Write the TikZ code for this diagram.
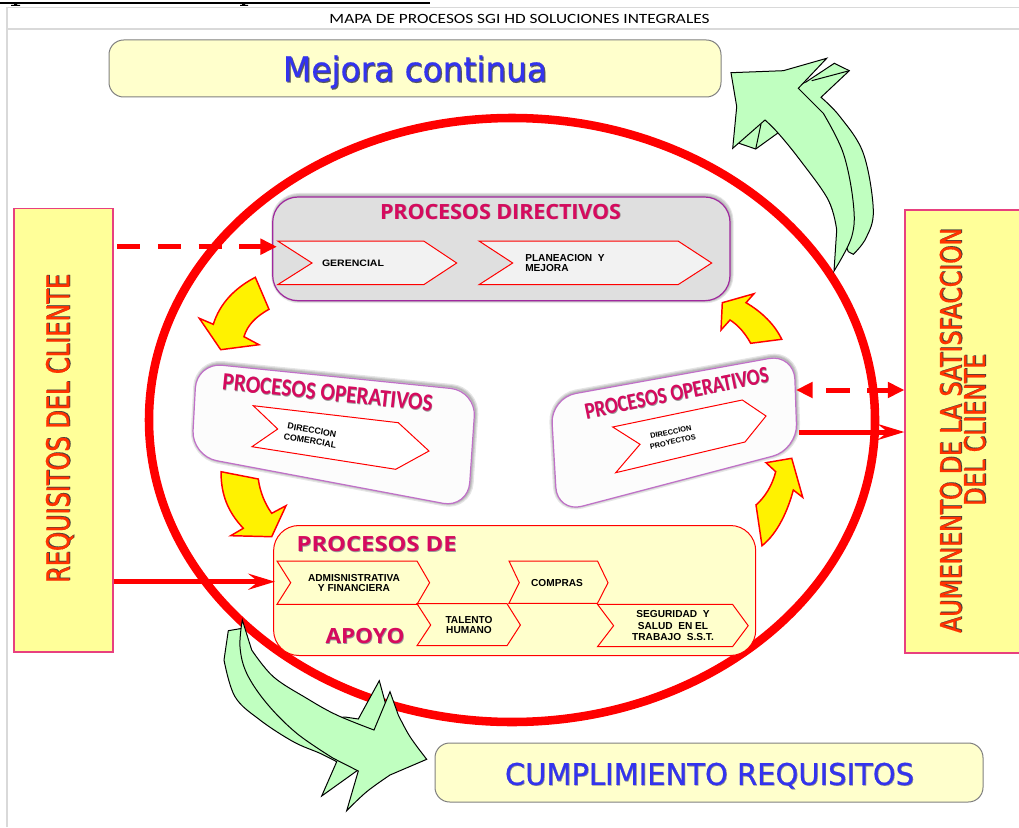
\documentclass[tikz,border=0pt]{standalone}
\usepackage{fontspec}
\usepackage{graphicx}
\usetikzlibrary{arrows.meta,fit}
\setmainfont{Liberation Sans}
\newfontfamily\tahfont{DejaVu Sans}[FakeBold=0.5]
\newfontfamily\calfont{Carlito}
\newfontfamily\opnfont{Open Sans}
\newlength\pxu \setlength\pxu{0.75pt}
\definecolor{paleyel}{HTML}{FFFFCC}
\definecolor{sideyel}{HTML}{FFFF99}
\definecolor{sideedge}{HTML}{E8407F}
\definecolor{mag}{HTML}{D60A5E}
\definecolor{blu}{HTML}{3333EE}
\definecolor{org}{HTML}{FF3300}
\definecolor{mint}{HTML}{C0FFC0}
\definecolor{frm}{HTML}{D9D9D9}
\definecolor{boxedge}{HTML}{808080}
\definecolor{dirfill}{HTML}{DFDFDF}
\definecolor{chevfill}{HTML}{F2F2F2}
\definecolor{purp}{HTML}{A0289E}
\definecolor{lpurp}{HTML}{C070C8}
% width-fitted text with an offset shadow in the same box
\newcommand{\shtxt}[5]{\resizebox{#1\pxu}{\height}{\rlap{\raisebox{-#5pt}{\hspace{#5pt}\textcolor{#3}{#4}}}\textcolor{#2}{#4}}}
\tikzset{
  pxgrid/.style={x=0.75pt,y=-0.75pt},
  framel/.style={draw=frm,line width=1.1pt},
  goalbox/.style={draw=boxedge,fill=paleyel,line width=0.75pt,rounded corners=11pt,inner sep=0pt},
  sidebox/.style={draw=sideedge,fill=sideyel,line width=0.9pt,inner sep=0pt},
  dirbox/.style={draw=purp,fill=dirfill,line width=0.9pt,rounded corners=19pt,inner sep=0pt},
  apobox/.style={draw=red,fill=paleyel,line width=0.75pt,rounded corners=19pt,inner sep=0pt},
  oppanel/.style={draw=lpurp,fill=white!99!black,line width=0.9pt,rounded corners=19pt},
  softsh/.style={draw=black,opacity=0.1,rounded corners=19pt},
  chev/.style={draw=red,line width=0.75pt,line join=miter},
  yarrow/.style={draw=red,fill=yellow,line width=1.1pt,line join=miter},
  garrow/.style={draw=black,fill=mint,line width=0.75pt,line join=miter},
  gline/.style={draw=black,line width=0.75pt},
  smalltxt/.style={font=\fontsize{7.6}{8.2}\selectfont\bfseries,align=center,inner sep=0pt,text=black},
  lefttxt/.style={smalltxt,align=left},
  plainnode/.style={inner sep=0pt,outer sep=0pt},
  thickflow/.style={draw=red,line width=3.75pt},
  dashflow/.style={thickflow,dash pattern=on 17.6pt off 13pt},
  solidhead/.style={-{Triangle[length=12.5pt,width=11.5pt]}},
  openhead/.style={-{Stealth[length=20pt,width=12pt,inset=7.5pt]}},
}
\begin{document}
\begin{tikzpicture}[pxgrid]
\useasboundingbox (0,0) rectangle (1019,827);
\fill[white] (0,0) rectangle (1019,827);

% page furniture
\draw[black,line width=1.2pt] (0,3) -- (430,3);
\fill[black] (14,4) rectangle (17,5.5) (11,5) rectangle (20,6);
\fill[black] (242,4) rectangle (245,5.5) (240,5) rectangle (248,6);
\draw[framel] (7,827) -- (7,7.5) -- (1019,7.5);
\draw[framel] (7,29) -- (1019,29);
\node[plainnode] (title) at (519.5,18.5) {\resizebox{380\pxu}{\height}{\calfont\fontsize{10.6}{12}\selectfont MAPA DE PROCESOS SGI HD SOLUCIONES INTEGRALES}};

% goal boxes
\node[goalbox,fit={(109,40) (721,97)}] (mejorabox) {};
\node[plainnode] (mejora) at (415,72.5) {\tahfont\fontsize{25.5}{28}\selectfont\shtxt{264}{blu}{black!65}{Mejora continua}{0.9}};
\node[goalbox,fit={(435,743) (983,802)}] (cumplebox) {};
\node[plainnode] (cumple) at (709.5,776) {\tahfont\fontsize{22.3}{25}\selectfont\shtxt{409}{blu}{black!45}{CUMPLIMIENTO REQUISITOS}{0.5}};

% side boxes
\node[sidebox,fit={(14,208.5) (113,652)}] (req) {};
\node[sidebox,fit={(905,210) (1025,653)}] (sat) {};
\node[plainnode,rotate=90] (reqt) at (60,428.5) {\tahfont\fontsize{23.6}{26}\selectfont\shtxt{309}{org}{black!75}{REQUISITOS DEL CLIENTE}{0.7}};
\node[plainnode,rotate=90] (satt1) at (951,430.5) {\tahfont\fontsize{21.6}{24}\selectfont\shtxt{405}{org}{black!75}{AUMENENTO DE LA SATISFACCION}{0.7}};
\node[plainnode,rotate=90] (satt2) at (975,430) {\tahfont\fontsize{21.6}{24}\selectfont\shtxt{152}{org}{black!75}{DEL CLIENTE}{0.7}};

% big ellipse
\draw[red,line width=6.4pt] (512,420) ellipse [x radius=363,y radius=302];

% green arrow, top right
\draw[garrow] (848.3,251.7) -- plot[smooth,tension=0.6] coordinates {(853.3,254.3) (866,238) (873.3,210) (863.3,153.3) (840,116.7) (821,97.3)} -- (849.3,70.7) -- (834.3,63.3) -- (806,82) -- (760,100) -- (739,143.3) -- (755.7,149) -- (778.3,132.7) -- (810,150) -- cycle;
\draw[gline] (849.3,70.7) -- (811.7,80.7);
\draw[gline] (761,124) -- (755.7,149);
\draw[garrow] (834,271) -- plot[smooth,tension=0.6] coordinates {(836.7,230) (828.3,200) (800,160) (778.3,133.3) (765,120)} -- (732.7,148.3) -- plot[smooth,tension=0.6] coordinates {(736.7,106.7) (731,72.7)} -- plot[smooth,tension=0.6] coordinates {(783.3,70.7) (826.7,58.3)} -- (798.3,88.3) -- plot[smooth,tension=0.6] coordinates {(823.3,113.3) (843.3,153.3) (853.3,203.3) (851.7,236.7) (834,271)} -- cycle;

% green arrow, bottom left
\draw[garrow] (228.3,630.7) -- plot[smooth,tension=0.6] coordinates {(224,660) (235,696.7) (260,720) (293.3,741.7) (320,753.3) (336.7,761.7)} -- (321.7,796) -- (358,770) -- (400,760) -- (385,701.7) -- (379.3,680.7) -- (358.3,719) -- (345,717) -- (320,720) -- (258,680) -- (242.3,628.3) -- cycle;
\draw[garrow] (242.3,620) -- plot[smooth,tension=0.6] coordinates {(251.7,650) (273.3,676.7) (306.7,698.3) (336.7,715) (374,730)} -- (390,691.7) -- plot[smooth,tension=0.6] coordinates {(398.3,715) (410,736.7) (426.7,759.3)} -- plot[smooth,tension=0.6] coordinates {(390,775) (366.7,791.7) (346.7,810.7)} -- (358.3,771) -- plot[smooth,tension=0.6] coordinates {(333.3,758.3) (296.7,733.3) (266.7,703.3) (246.7,673.3) (240,646.7) (242.3,620)} -- cycle;

% yellow cycle arrows
\draw[yarrow] (255.3,277.3) -- (269,309.3) .. controls (255,317) and (247,326) .. (244,336.7) -- (259,344.7) -- (220.7,349.7) -- (199.3,318.3) -- (213.3,324.3) .. controls (220,303) and (235,288) .. cycle;
\draw[yarrow] (221,471.7) -- (258.3,479) .. controls (260,492) and (265,504) .. (271.7,513.3) -- (286,505.7) -- (271.7,536.7) -- (230.7,535.7) -- (243.3,528.3) .. controls (228,512) and (221,495) .. cycle;
\draw[yarrow] (781.7,339.3) -- (750.7,343.3) .. controls (745,333) and (738,325) .. (730,320) -- (721,330) -- (722.3,302.7) -- (754,293.7) -- (746,302.7) .. controls (762,312) and (775,325) .. cycle;
\draw[yarrow] (791.7,458.3) -- (766,462.7) -- (775.7,471.7) .. controls (772,486) and (765,497) .. (756,505) -- (762,545.7) .. controls (778,533) and (788,510) .. (793.3,490) -- (802.7,497.3) -- cycle;

% directive panel
\foreach \d/\w in {1/5,1/3,0.5/1.5} {
  \draw[softsh,line width=\w*0.75pt] (272.7+\d,197-1.5*\d) rectangle (730+\d,300.7);
}
\node[dirbox,fit={(272.7,197) (730,300.7)}] (dir) {};
\node[plainnode] (dirt) at (500.5,212) {\opnfont\bfseries\fontsize{15.7}{18}\selectfont\shtxt{241}{mag}{black!40}{PROCESOS DIRECTIVOS}{0.5}};
\draw[chev,fill=chevfill] (277.7,241) coordinate (gerl) -- (423.7,241) -- (456.7,263) -- (423.7,284.7) -- (277.7,284.7) -- (312,263) -- cycle;
\draw[chev,fill=chevfill] (479,241) -- (678,241) -- (711.7,263) -- (678,284.7) -- (479,284.7) -- (512.7,263) -- cycle;
\node[plainnode] (ger) at (353,263) {\resizebox{62\pxu}{\height}{\fontsize{7}{8.2}\selectfont\bfseries GERENCIAL}};
\node[lefttxt,anchor=west] (pla) at (525,263) {PLANEACION~~Y\\MEJORA};

% left operative panel
\foreach \w in {6,3.5,1.5} {
  \draw[softsh,line width=\w*0.75pt] (197.5,361.5) -- (477,389.5) -- (469,508) -- (192.5,456) -- cycle;
}
\draw[oppanel] (196.7,362.7) -- (476,391) -- (468,508) -- (191.7,456) -- cycle;
\node[plainnode,rotate=-5.9] (oplt) at (327.7,393) {\calfont\bfseries\fontsize{18.5}{20}\selectfont\shtxt{211}{mag}{black!40}{PROCESOS OPERATIVOS}{0.5}};
\draw[chev,fill=white] (253.3,405.7) -- (398.3,422.7) -- (429,451) -- (395.7,469.3) -- (252,446.7) -- (277.7,429) -- cycle;
\node[smalltxt,rotate=-10,font=\fontsize{6.6}{8}\selectfont\bfseries] (com) at (311,435.5) {DIRECCION\\COMERCIAL};

% right operative panel
\foreach \w in {6,3.5,1.5} {
  \draw[softsh,line width=\w*0.75pt] (551,397) -- (794.5,352.5) -- (798,449) -- (557.3,512) -- cycle;
}
\draw[oppanel] (550.7,398) -- (794,354) -- (797.3,449.7) -- (557.3,512.7) -- cycle;
\node[plainnode,rotate=11.5] (oprt) at (676.7,393.3) {\calfont\bfseries\fontsize{17.5}{20}\selectfont\shtxt{187}{mag}{black!40}{PROCESOS OPERATIVOS}{0.5}};
\draw[chev,fill=white] (612.7,427) -- (742.3,400) -- (766,416) -- (745,442) -- (615.7,472.7) -- (640,444.3) -- cycle;
\node[smalltxt,rotate=12,font=\fontsize{5.6}{7.6}\selectfont\bfseries] (pro) at (671.8,437) {DIRECCION\\PROYECTOS};

% support panel
\node[apobox,fit={(273.6,525.5) (755.7,655.5)}] (apo) {};
\node[plainnode] (apot1) at (376.6,544.3) {\opnfont\bfseries\fontsize{15.7}{18}\selectfont\shtxt{160}{mag}{black!40}{PROCESOS DE}{0.5}};
\node[plainnode] (apot2) at (365,636.7) {\opnfont\bfseries\fontsize{15.7}{18}\selectfont\shtxt{79}{mag}{black!40}{APOYO}{0.5}};
\draw[chev] (277,561) -- (417,561) -- (429.6,582.7) -- (417,604.3) -- (277,604.3) -- (290.7,582.7) -- cycle;
\draw[chev] (509,561) -- (597.5,561) -- (608,582.7) -- (597.5,603.3) -- (509,603.3) -- (519.3,582.7) -- cycle;
\draw[chev] (417,603.7) -- (507,603.7) -- (520.4,625) -- (507,645.7) -- (417,645.7) -- (430.7,625) -- cycle;
\draw[chev] (597.5,604.3) -- (732.5,604.3) -- (748.2,625.7) -- (732.5,646.7) -- (597.5,646.7) -- (613.6,625.7) -- cycle;
\node[smalltxt] (adm) at (354,583) {ADMISNISTRATIVA\\Y FINANCIERA};
\node[smalltxt] (com2) at (557,583.3) {COMPRAS};
\node[smalltxt] (tal) at (469,625) {TALENTO\\HUMANO};
\node[smalltxt,font=\fontsize{7.6}{8.7}\selectfont\bfseries] (seg) at (673,625.7) {SEGURIDAD~~Y\\SALUD~~EN EL\\TRABAJO~~S.S.T.};

% flow connectors
\coordinate (reqd) at (117,246.7);
\coordinate (dird) at (277,246.7);
\draw[dashflow,solidhead] (reqd) -- (dird);
\coordinate (apoin) at (275,581.7);
\draw[thickflow,openhead] (req.east |- apoin) -- (apoin);
\coordinate (oprd) at (796,390);
\coordinate (oprs) at (799,432);
\draw[thickflow,dash pattern=on 17.6pt off 13pt,dash phase=19.65pt,{Triangle[length=12.5pt,width=11.5pt]}-{Triangle[length=12.5pt,width=11.5pt]}] (oprd) -- (sat.west |- oprd);
\draw[thickflow,openhead] (oprs) -- (sat.west |- oprs);
\end{tikzpicture}
\end{document}
